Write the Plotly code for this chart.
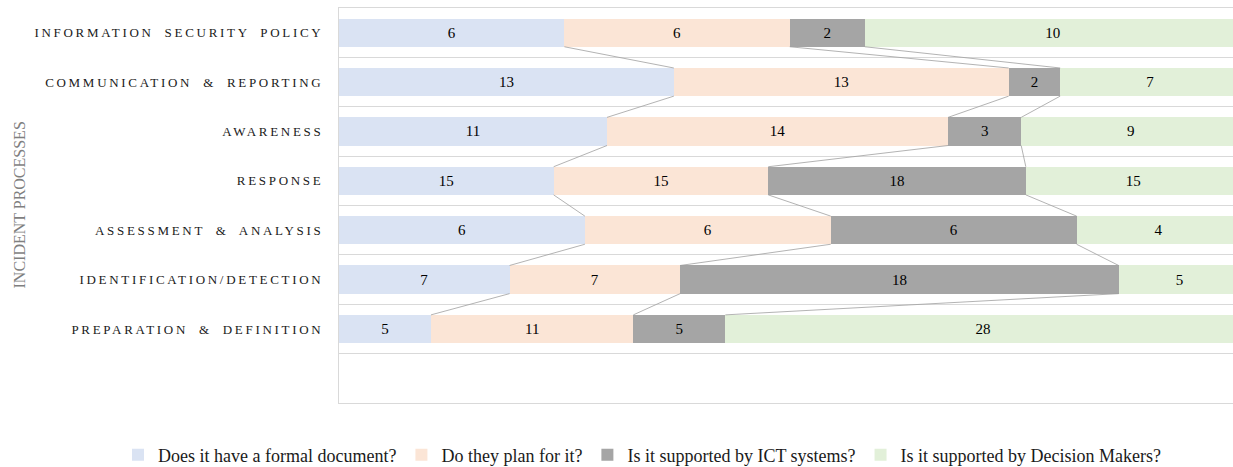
import plotly.graph_objects as go

# ---- data (top row first) ----
categories = [
    "INFORMATION SECURITY POLICY",
    "COMMUNICATION & REPORTING",
    "AWARENESS",
    "RESPONSE",
    "ASSESSMENT & ANALYSIS",
    "IDENTIFICATION/DETECTION",
    "PREPARATION & DEFINITION",
]
series_names = [
    "Does it have a formal document?",
    "Do they plan for it?",
    "Is it supported by ICT systems?",
    "Is it supported by Decision Makers?",
]
formal_doc = [6, 13, 11, 15, 6, 7, 5]
plan_for = [6, 13, 14, 15, 6, 7, 11]
ict_support = [2, 2, 3, 18, 6, 18, 5]
dm_support = [10, 7, 9, 15, 4, 5, 28]

colors = ["#DAE3F3", "#FBE5D6", "#A5A5A5", "#E2F0D9"]
series_values = [formal_doc, plan_for, ict_support, dm_support]

n = len(categories)
ypos = [n - i for i in range(n)]  # top row highest; empty slot at 0
bar_w = 0.57
serif = "Liberation Serif, Times New Roman, serif"

fig = go.Figure()
for name, vals, col in zip(series_names, series_values, colors):
    fig.add_trace(go.Bar(
        y=ypos, x=vals, name=name, orientation="h", width=bar_w,
        marker=dict(color=col, line=dict(width=0)),
        text=vals, textposition="inside", insidetextanchor="middle",
        textangle=0, textfont=dict(family=serif, size=15, color="#000000"),
        hoverinfo="skip",
    ))

# series lines (Excel style) connecting cumulative boundaries between rows
totals = [sum(v[i] for v in series_values) for i in range(n)]
for k in range(1, 4):
    cum = [100.0 * sum(series_values[j][i] for j in range(k)) / totals[i] for i in range(n)]
    xs, ys = [], []
    for i in range(n - 1):
        xs += [cum[i], cum[i + 1], None]
        ys += [ypos[i] - bar_w / 2, ypos[i + 1] + bar_w / 2, None]
    fig.add_trace(go.Scatter(x=xs, y=ys, mode="lines", showlegend=False,
                             line=dict(color="#A0A0A0", width=0.8),
                             hoverinfo="skip"))

fig.update_layout(
    width=1233, height=467,
    margin=dict(l=339, r=0, t=8, b=64, autoexpand=False),
    barmode="stack", barnorm="percent",
    paper_bgcolor="white", plot_bgcolor="white",
    font=dict(family=serif, color="#000000"),
    uniformtext=dict(mode="show", minsize=14),
    showlegend=True,
    legend=dict(orientation="h", x=(118 - 339) / 894, xanchor="left", y=-0.132, yanchor="middle",
                font=dict(family=serif, size=18, color="#1a1a1a"),
                traceorder="normal", itemwidth=30, tracegroupgap=0),
    xaxis=dict(range=[0, 99.17], showticklabels=False, showgrid=False, zeroline=False,
               ticks="", showline=True, mirror=True, linecolor="#D9D9D9", linewidth=1,
               fixedrange=True),
    yaxis=dict(range=[-0.5, 7.5], tickmode="array", tickvals=ypos, ticktext=categories,
               showgrid=False, zeroline=False, ticks="", showline=True,
               linecolor="#D9D9D9", linewidth=1,
               tickfont=dict(family=serif, size=13, color="#1a1a1a"),
               ticklabelstandoff=12,
               minor=dict(tickmode="array", tickvals=[i + 0.5 for i in range(n)],
                          showgrid=True, gridcolor="#D9D9D9", gridwidth=1, ticks=""),
               fixedrange=True),
    annotations=[dict(text="INCIDENT PROCESSES", textangle=-90, xref="paper", yref="paper",
                      x=(19 - 339) / 894, y=0.5, xanchor="center", yanchor="middle",
                      showarrow=False, font=dict(family=serif, size=16, color="#7F7F7F"))],
)

post = """
var gd = document.getElementById('{plot_id}');
function spaceTicks(){
  gd.querySelectorAll('.ytick text').forEach(function(t){
    t.setAttribute('letter-spacing','2.7');
    t.setAttribute('word-spacing','5');
  });
}
spaceTicks();
gd.on('plotly_afterplot', spaceTicks);
"""

fig.write_html("out.html", post_script=post, config={"displayModeBar": False})
